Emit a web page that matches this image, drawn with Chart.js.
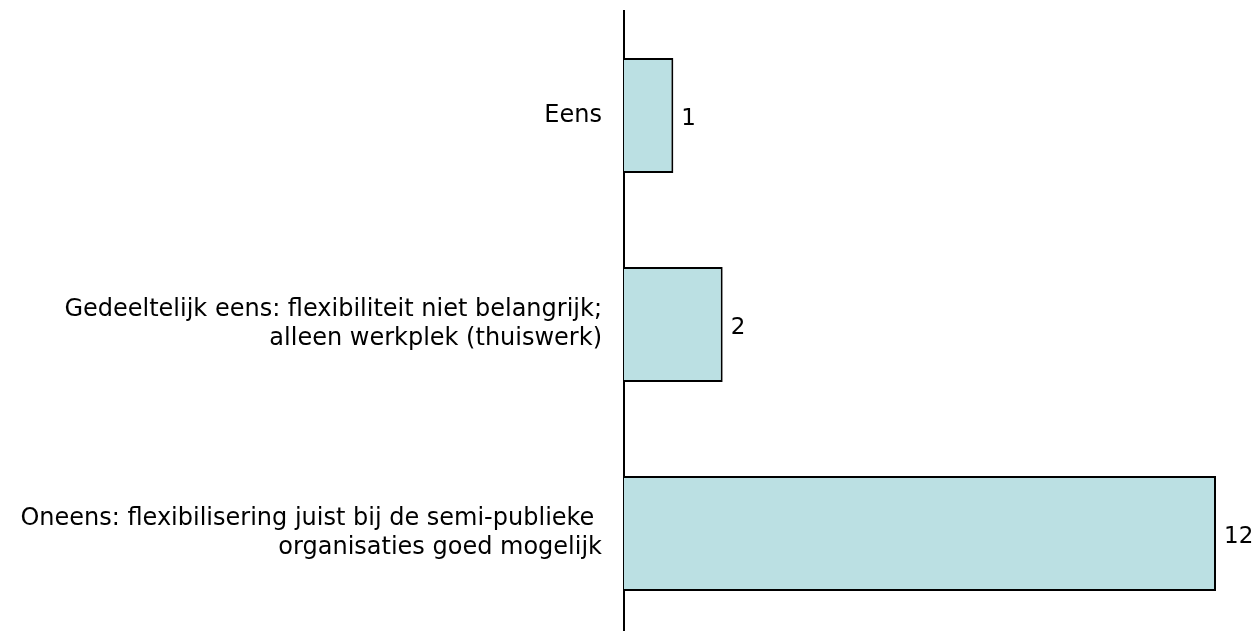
<!DOCTYPE html>
<html>
<head>
<meta charset="utf-8">
<script src="https://cdn.jsdelivr.net/npm/chart.js@4.4.1/dist/chart.umd.min.js"></script>
<style>
  html, body { margin:0; padding:0; background:#fff; overflow:hidden; }
  #wrap { position:relative; width:1253px; height:640px; }
</style>
</head>
<body>
<div id="wrap"><canvas id="chart"></canvas></div>
<script>
// ---------- Data ----------
const categories = [
  'Eens',
  ['Gedeeltelijk eens: flexibiliteit niet belangrijk;', 'alleen werkplek (thuiswerk)'],
  ['Oneens: flexibilisering juist bij de semi-publieke ', 'organisaties goed mogelijk']
];
const counts = [1, 2, 12];
const xMax = 12;

const FONT = "'DejaVu Sans', Tahoma, sans-serif";

// value labels to the right of each bar
const valueLabels = {
  id: 'valueLabels',
  afterDatasetsDraw(chart) {
    const {ctx} = chart;
    const f = Chart.helpers.toFont({ family: FONT, size: 23 });
    chart.getDatasetMeta(0).data.forEach((bar, i) => {
      ctx.save();
      ctx.fillStyle = '#000';
      ctx.font = f.string;
      ctx.textAlign = 'left';
      ctx.textBaseline = 'middle';
      ctx.fillText(String(counts[i]), bar.x + 8, bar.y + 4);
      ctx.restore();
    });
  }
};

new Chart(document.getElementById('chart'), {
  type: 'bar',
  data: {
    labels: categories,
    datasets: [{
      data: counts,
      backgroundColor: '#bbe0e3',
      borderColor: '#000',
      borderWidth: 2,
      borderSkipped: 'start',
      barPercentage: 0.55,
      categoryPercentage: 1
    }]
  },
  options: {
    indexAxis: 'y',
    responsive: true,
    maintainAspectRatio: false,
    animation: false,
    layout: { padding: { top: 11, bottom: 2, left: 0, right: 37 } },
    plugins: { legend: { display: false }, tooltip: { enabled: false } },
    scales: {
      x: { display: false, min: 0, max: xMax },
      y: {
        grid: { display: false, drawTicks: false },
        border: { display: true, color: '#000', width: 2 },
        ticks: {
          color: '#000',
          padding: 22,
          font: { family: FONT, size: 24, lineHeight: 1.2 }
        },
        afterFit(s) {
          s.width = 624;
          s.paddingTop = 0;
          s.paddingBottom = 0;
        }
      }
    }
  },
  plugins: [valueLabels]
});
</script>
</body>
</html>
